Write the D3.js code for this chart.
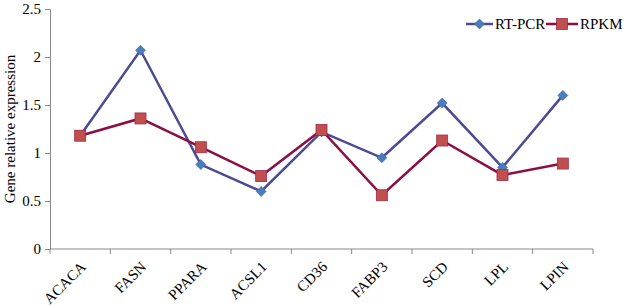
<!DOCTYPE html>
<html>
<head>
<meta charset="utf-8">
<script src="https://cdn.jsdelivr.net/npm/d3@7"></script>
<style>
  body { margin: 0; background: #fff; }
  text { font-family: "Liberation Serif", "Times New Roman", serif; fill: #000; }
</style>
</head>
<body>
<svg id="chart" width="624" height="306"></svg>
<script>
// genes along the x axis
var genes = ['ACACA', 'FASN', 'PPARA', 'ACSL1', 'CD36', 'FABP3', 'SCD', 'LPL', 'LPIN']
// relative expression
var rtPcr = [1.18, 2.07, 0.88, 0.60, 1.22, 0.95, 1.52, 0.85, 1.60]
var rpkm = [1.18, 1.36, 1.06, 0.76, 1.24, 0.56, 1.13, 0.77, 0.89]
var yTicks = [0, 0.5, 1, 1.5, 2, 2.5]

var svg = d3.select('#chart')
var plotLeft = 50, plotRight = 593, plotTop = 9, plotBottom = 249
var fontSize = 15

var x = d3.scaleBand().domain(genes).range([plotLeft, plotRight])
var y = d3.scaleLinear().domain([0, 2.5]).range([plotBottom, plotTop])
var axisColor = '#888'

// y axis
var yAxis = svg.append('g')
  .attr('transform', 'translate(' + plotLeft + ',0)')
  .call(d3.axisLeft(y).tickValues(yTicks).tickSize(5).tickPadding(4).tickFormat(d => String(d)))
yAxis.selectAll('path, line').attr('stroke', axisColor)
yAxis.selectAll('text').attr('font-size', fontSize).attr('font-family', 'Liberation Serif').attr('fill', '#000')

// x axis: ticks at band edges
var xAxis = svg.append('g').attr('transform', 'translate(0,' + plotBottom + ')')
xAxis.append('line').attr('x1', plotLeft).attr('x2', plotRight).attr('stroke', axisColor)
var edges = genes.map(g => x(g)).concat([plotRight])
xAxis.selectAll('.tk').data(edges).join('line')
  .attr('x1', d => d).attr('x2', d => d).attr('y1', 0).attr('y2', 5)
  .attr('stroke', axisColor)
xAxis.selectAll('.lab').data(genes).join('text')
  .attr('transform', d => 'translate(' + (x(d) + x.bandwidth() / 2 + 3) + ',15) rotate(-45)')
  .attr('text-anchor', 'end')
  .attr('dy', '0.35em')
  .attr('font-size', fontSize)
  .text(d => d)

// y axis title
svg.append('text')
  .attr('transform', 'translate(15,' + ((plotTop + plotBottom) / 2) + ') rotate(-90)')
  .attr('text-anchor', 'middle')
  .attr('font-size', fontSize)
  .text('Gene relative expression')

var cx = g => x(g) + x.bandwidth() / 2
var line = d3.line().x((d, i) => cx(genes[i])).y(d => y(d))

var blueLine = '#4b4b94', blueMark = '#4a7ebb'
var redLine = '#8c0f43', redMark = '#c0504d'

svg.append('path').datum(rtPcr).attr('d', line)
  .attr('fill', 'none').attr('stroke', blueLine).attr('stroke-width', 2.5)
svg.append('path').datum(rpkm).attr('d', line)
  .attr('fill', 'none').attr('stroke', redLine).attr('stroke-width', 2.5)

var diamond = d3.symbol().type(d3.symbolSquare).size(50)
svg.selectAll('.dm').data(rtPcr).join('path')
  .attr('d', diamond)
  .attr('transform', (d, i) => 'translate(' + cx(genes[i]) + ',' + y(d) + ') rotate(45)')
  .attr('fill', blueMark).attr('stroke', '#3a6aa8').attr('stroke-width', 0.6)

svg.selectAll('.sq').data(rpkm).join('rect')
  .attr('x', (d, i) => cx(genes[i]) - 5.5)
  .attr('y', d => y(d) - 5.5)
  .attr('width', 11).attr('height', 11)
  .attr('fill', redMark).attr('stroke', '#a02a4a').attr('stroke-width', 0.8)

// legend
var lg = svg.append('g').attr('transform', 'translate(0,24)')
lg.append('line').attr('x1', 466).attr('x2', 493).attr('stroke', blueLine).attr('stroke-width', 2.5)
lg.append('path').attr('d', diamond).attr('transform', 'translate(479.5,0) rotate(45)')
  .attr('fill', blueMark).attr('stroke', '#3a6aa8').attr('stroke-width', 0.6)
lg.append('text').attr('x', 495).attr('dy', '0.35em').attr('font-size', fontSize).text('RT-PCR')
lg.append('line').attr('x1', 546).attr('x2', 578).attr('stroke', redLine).attr('stroke-width', 2.5)
lg.append('rect').attr('x', 556.5).attr('y', -5.5).attr('width', 11).attr('height', 11)
  .attr('fill', redMark).attr('stroke', '#a02a4a').attr('stroke-width', 0.8)
lg.append('text').attr('x', 580).attr('dy', '0.35em').attr('font-size', fontSize).text('RPKM')
</script>
</body>
</html>
